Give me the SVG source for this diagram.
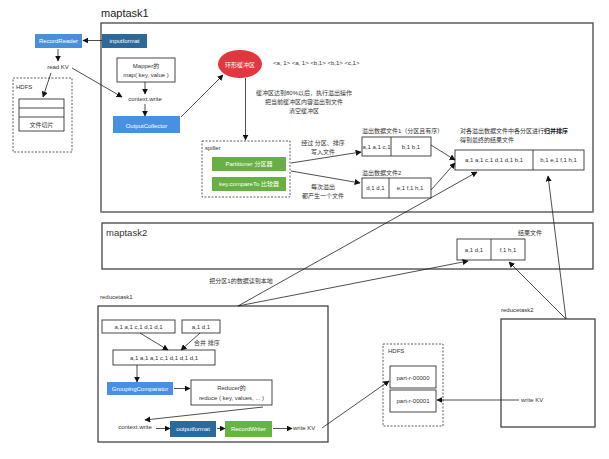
<svg xmlns="http://www.w3.org/2000/svg" width="609" height="459" viewBox="0 0 609 459">
<style>
text{font-family:"Liberation Sans","Noto Sans CJK SC",sans-serif;fill:#333;font-size:6px}
.c{text-anchor:middle}
.w{fill:#fff}
.frame{fill:none;stroke:#444;stroke-width:1.3}
.box{fill:#fff;stroke:#333;stroke-width:0.9}
.dash{fill:none;stroke:#333;stroke-width:0.8;stroke-dasharray:2,1.5}
.ln{stroke:#222;stroke-width:0.8;fill:none}
.big{font-size:11px;fill:#222}
.mid{font-size:9.5px;fill:#333}
</style>
<defs>
<marker id="ar" viewBox="0 0 10 10" refX="9" refY="5" markerWidth="6" markerHeight="6" orient="auto" markerUnits="userSpaceOnUse">
<path d="M0,0 L10,5 L0,10 z" fill="#111"/>
</marker>
</defs>
<rect width="609" height="459" fill="#fff"/>

<g id="maptask1">
<text x="101" y="17" class="big">maptask1</text>
<rect x="101" y="23" width="492" height="189" class="frame"/>
<line x1="101" y1="212" x2="593" y2="212" stroke="#888" stroke-width="2.2"/>
</g>

<g id="maptask2">
<rect x="102" y="223" width="491" height="46" class="frame"/>
<text x="106" y="236" class="mid">maptask2</text>
</g>

<g id="reducetask1">
<text x="100" y="299">reducetask1</text>
<rect x="98" y="306" width="230" height="136" class="frame"/>
</g>

<g id="reducetask2">
<text x="501" y="312">reducetask2</text>
<rect x="501" y="319" width="94" height="108" class="frame"/>
</g>

<g id="recordreader">
<rect x="35" y="34" width="47" height="14" fill="#4a90d9"/>
<text x="58.5" y="43" class="c w">RecordReader</text>
</g>
<g id="inputformat">
<rect x="102" y="34" width="45" height="14" fill="#2c6a9c"/>
<text x="124.5" y="43" class="c w">inputformat</text>
</g>
<g id="readkv"><text x="58" y="69" class="c">read KV</text></g>

<g id="hdfs1">
<rect x="13" y="78" width="59" height="74" class="dash"/>
<text x="16" y="89" font-size="5">HDFS</text>
<rect x="19" y="99" width="45" height="32" class="box"/>
<line x1="19" y1="108" x2="64" y2="108" stroke="#333" stroke-width="0.9"/>
<line x1="19" y1="117" x2="64" y2="117" stroke="#333" stroke-width="0.9"/>
<text x="41.5" y="127" class="c">文件切片</text>
</g>

<g id="mapper">
<rect x="117" y="58" width="58" height="24" class="box"/>
<text x="146" y="67.5" class="c">Mapper的</text>
<text x="146" y="77" class="c">map( key, value )</text>
</g>
<g id="contextwrite1"><text x="145" y="101" class="c">context.write</text></g>
<g id="outputcollector">
<rect x="113" y="116" width="67" height="17" fill="#4a90e2"/>
<text x="146.5" y="127.5" class="c w" font-size="8">OutputCollector</text>
</g>

<g id="ringbuffer">
<ellipse cx="240" cy="64" rx="22" ry="14" fill="#e0383e"/>
<text x="240" y="66.5" class="c w">环形缓冲区</text>
<text x="273" y="65">&lt;a, 1&gt; &lt;a, 1&gt; &lt;b,1&gt; &lt;b,1&gt; &lt;c,1&gt;</text>
</g>
<g id="spillnote">
<text x="304" y="95" class="c">缓冲区达到80%以后，执行溢出操作</text>
<text x="304" y="104" class="c">把当前缓冲区内容溢出到文件</text>
<text x="304" y="113" class="c">清空缓冲区</text>
</g>

<g id="spiller">
<rect x="202" y="141" width="88" height="56" class="dash"/>
<text x="205" y="150" font-size="5">spiller</text>
<rect x="212" y="157" width="74" height="14" fill="#68b045"/>
<text x="249" y="166" class="c w">Partitioner 分区器</text>
<rect x="212" y="177" width="74" height="14" fill="#68b045"/>
<text x="249" y="186" class="c w">key.compareTo 比较器</text>
</g>
<g id="spillnote2">
<text x="323" y="145" class="c">经过 分区、排序</text>
<text x="323" y="154" class="c">写入文件</text>
<text x="323" y="189" class="c">每次溢出</text>
<text x="323" y="198" class="c">都产生一个文件</text>
</g>

<g id="spillfile1">
<text x="362" y="133">溢出数据文件1（分区且有序）</text>
<rect x="362" y="137" width="69" height="19" class="box"/>
<line x1="391" y1="137" x2="391" y2="156" stroke="#333" stroke-width="0.9"/>
<text x="376.5" y="148.5" class="c">a,1  a,1  c,1</text>
<text x="411" y="148.5" class="c">b,1  b,1</text>
</g>
<g id="spillfile2">
<text x="362" y="175">溢出数据文件2</text>
<rect x="362" y="178" width="69" height="20" class="box"/>
<line x1="389" y1="178" x2="389" y2="198" stroke="#333" stroke-width="0.9"/>
<text x="375.5" y="190" class="c">d,1  d,1</text>
<text x="410" y="190" class="c">e,1  f,1  h,1</text>
</g>

<g id="mergedfile">
<text x="460" y="133">对各溢出数据文件中各分区进行<tspan font-weight="bold" fill="#111">归并排序</tspan></text>
<text x="460" y="142">得到最终的结果文件</text>
<rect x="455" y="150" width="129" height="20" class="box"/>
<line x1="533" y1="150" x2="533" y2="170" stroke="#333" stroke-width="0.9"/>
<text x="494" y="162" class="c">a,1  a,1  c,1  d,1  d,1  b,1</text>
<text x="558.5" y="162" class="c">b,1  e,1  f,1  h,1</text>
</g>

<g id="resultfile2">
<text x="518" y="235">结果文件</text>
<rect x="457" y="239" width="68" height="21" class="box"/>
<line x1="491" y1="239" x2="491" y2="260" stroke="#333" stroke-width="0.9"/>
<text x="474" y="252" class="c">a,1   d,1</text>
<text x="508" y="252" class="c">f,1   h,1</text>
</g>

<g id="fetchnote"><text x="241" y="283" class="c">把分区1的数据读到本地</text></g>

<g id="r1list1">
<rect x="102" y="320" width="73" height="13" class="box"/>
<text x="138.5" y="329" class="c">a,1  a,1  c,1  d,1  d,1</text>
</g>
<g id="r1list2">
<rect x="182" y="320" width="38" height="13" class="box"/>
<text x="201" y="329" class="c">a,1    d,1</text>
</g>
<text x="194" y="345">合并 排序</text>
<g id="r1merged">
<rect x="113" y="350" width="102" height="15" class="box"/>
<text x="164" y="360" class="c">a,1  a,1  a,1  c,1  d,1  d,1  d,1</text>
</g>
<g id="grouping">
<rect x="107" y="382" width="66" height="13" fill="#4a90e2"/>
<text x="140" y="391" class="c w">GroupingComparator</text>
</g>
<g id="reducer">
<rect x="191" y="380" width="81" height="25" class="box"/>
<text x="231.5" y="390" class="c">Reducer的</text>
<text x="231.5" y="399.5" class="c">reduce ( key, values, ... )</text>
</g>
<g id="contextwrite2"><text x="135" y="429" class="c">context.write</text></g>
<g id="outputformat">
<rect x="170" y="421" width="46" height="16" fill="#2c6a9c"/>
<text x="193" y="431" class="c w">outputformat</text>
</g>
<g id="recordwriter">
<rect x="225" y="421" width="47" height="16" fill="#66b544"/>
<text x="248.5" y="431" class="c w">RecordWriter</text>
</g>
<g id="writekv1"><text x="293" y="430">write KV</text></g>

<g id="hdfs2">
<rect x="383" y="344" width="60" height="82" class="dash"/>
<text x="388" y="353" font-size="5">HDFS</text>
<rect x="390" y="366" width="46" height="22" class="box"/>
<text x="413" y="380" class="c">part-r-00000</text>
<rect x="390" y="390" width="46" height="22" class="box"/>
<text x="413" y="403" class="c">part-r-00001</text>
</g>
<g id="writekv2"><text x="521" y="402">write KV</text></g>

<g id="connectors" class="ln">
<line x1="102" y1="40.5" x2="83" y2="40.5" marker-end="url(#ar)"/>
<line x1="58" y1="49" x2="58" y2="61" marker-end="url(#ar)"/>
<line x1="51" y1="73" x2="43" y2="97" marker-end="url(#ar)"/>
<line x1="72" y1="68" x2="122" y2="97" marker-end="url(#ar)"/>
<line x1="145" y1="82" x2="145" y2="94" marker-end="url(#ar)"/>
<line x1="145" y1="104" x2="145" y2="116" marker-end="url(#ar)"/>
<line x1="181" y1="117" x2="223" y2="75" marker-end="url(#ar)"/>
<line x1="245.5" y1="78" x2="245.5" y2="140" marker-end="url(#ar)"/>
<line x1="291" y1="163" x2="361" y2="152" marker-end="url(#ar)"/>
<line x1="291" y1="171" x2="360" y2="183" marker-end="url(#ar)"/>
<line x1="431" y1="145" x2="455" y2="160" marker-end="url(#ar)"/>
<line x1="431" y1="190" x2="455" y2="163" marker-end="url(#ar)"/>
<line x1="238" y1="306" x2="477" y2="172" marker-end="url(#ar)"/>
<line x1="238" y1="306" x2="468" y2="261" marker-end="url(#ar)"/>
<line x1="566" y1="319" x2="548" y2="176" marker-end="url(#ar)"/>
<line x1="566" y1="319" x2="509" y2="262" marker-end="url(#ar)"/>
<line x1="140" y1="333" x2="168" y2="350" marker-end="url(#ar)"/>
<line x1="200" y1="333" x2="181" y2="350" marker-end="url(#ar)"/>
<line x1="137" y1="365" x2="137" y2="382" marker-end="url(#ar)"/>
<line x1="174" y1="388.5" x2="190" y2="388.5" marker-end="url(#ar)"/>
<line x1="263" y1="407" x2="145" y2="420" marker-end="url(#ar)"/>
<line x1="156" y1="428.5" x2="170" y2="428.5" marker-end="url(#ar)"/>
<line x1="217" y1="428.5" x2="225" y2="428.5" marker-end="url(#ar)"/>
<line x1="273" y1="428.5" x2="292" y2="428.5" marker-end="url(#ar)"/>
<line x1="322" y1="428" x2="389" y2="381" marker-end="url(#ar)"/>
<line x1="519" y1="400" x2="437" y2="400" marker-end="url(#ar)"/>
</g>
</svg>
